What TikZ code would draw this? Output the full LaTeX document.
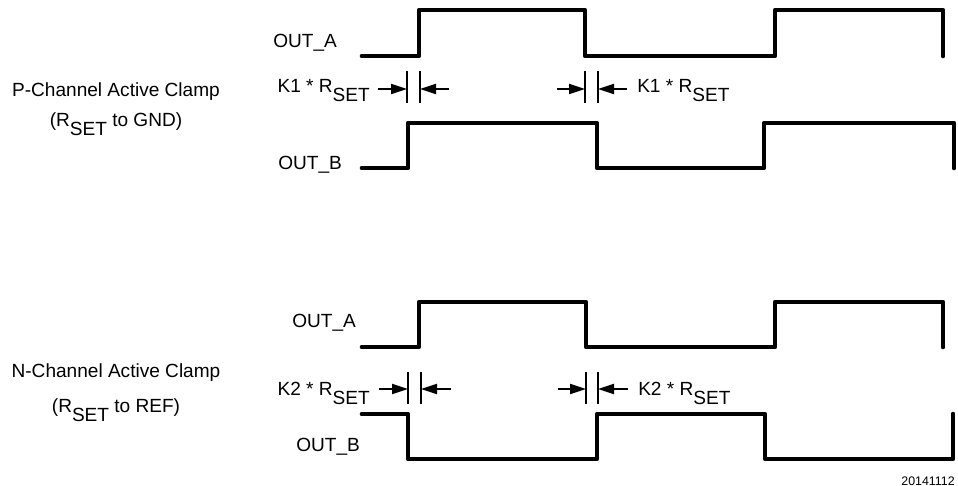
\documentclass[tikz,border=0pt]{standalone}
\usepackage{fontspec}
\setmainfont{Liberation Sans}
\usetikzlibrary{arrows.meta}
\newcommand{\rset}{R\raisebox{-7pt}{SET}}

\begin{document}
\begin{tikzpicture}[x=0.75pt,y=-0.75pt,>={Triangle[length=12pt,width=7.5pt]},
                    font=\fontsize{14.3}{17}\selectfont]
  \tikzstyle{wave}=[line width=3.5pt,line join=round,line cap=round]
  \tikzstyle{tickline}=[line width=1.2pt]
  \tikzstyle{dim}=[->,line width=1.6pt]
  \tikzstyle{lbl}=[inner sep=0pt]

  \useasboundingbox (0,0) rectangle (958,486);

  % P-channel
  \node[lbl,anchor=base] (ptitle) at (116,96) {P-Channel Active Clamp};
  \node[lbl,anchor=base] (pnote)  at (116,126) {(\rset{} to GND)};
  \node[lbl,anchor=base west] (outAp) at (273,47) {OUT\_A};
  \node[lbl,anchor=base west] (outBp) at (278,169) {OUT\_B};
  \node[lbl,anchor=base east] (k1left)  at (370,92) {K1 * \rset};
  \node[lbl,anchor=base west] (k1right) at (637,92) {K1 * \rset};

  \draw[wave] (362,56) -- (419,56) -- (419,10) -- (585,10) -- (585,56)
              -- (775,56) -- (775,10) -- (943,10) -- (943,56);
  \draw[wave] (362,168) -- (408,168) -- (408,123) -- (597,123) -- (597,168)
              -- (764,168) -- (764,123) -- (954,123) -- (954,168);

  \coordinate (p1) at (407,89);  \coordinate (p2) at (420,89);
  \coordinate (p3) at (585,89);  \coordinate (p4) at (598,89);
  \foreach \c in {p1,p2,p3,p4}
    \draw[tickline] (\c) ++(0,-18) -- ++(0,32);
  \draw[dim] (378,89) -- (p1);
  \draw[dim] (449,89) -- (p2);
  \draw[dim] (557,89) -- (p3);
  \draw[dim] (627,89) -- (p4);

  % N-channel
  \node[lbl,anchor=base] (ntitle) at (116,377) {N-Channel Active Clamp};
  \node[lbl,anchor=base] (nnote)  at (116,412) {(\rset{} to REF)};
  \node[lbl,anchor=base west] (outAn) at (292,327) {OUT\_A};
  \node[lbl,anchor=base west] (outBn) at (296,451) {OUT\_B};
  \node[lbl,anchor=base east] (k2left)  at (370,395) {K2 * \rset};
  \node[lbl,anchor=base west] (k2right) at (638,395) {K2 * \rset};

  \draw[wave] (362,347) -- (419,347) -- (419,302) -- (586,302) -- (586,347)
              -- (775,347) -- (775,302) -- (943,302) -- (943,347);
  \draw[wave] (362,414) -- (408,414) -- (408,459) -- (597,459) -- (597,414)
              -- (765,414) -- (765,459) -- (953,459) -- (953,414);

  \coordinate (n1) at (408,389); \coordinate (n2) at (421,389);
  \coordinate (n3) at (586,389); \coordinate (n4) at (598,389);
  \foreach \c in {n1,n2,n3,n4}
    \draw[tickline] (\c) ++(0,-17) -- ++(0,32);
  \draw[dim] (379,389) -- (n1);
  \draw[dim] (451,389) -- (n2);
  \draw[dim] (558,389) -- (n3);
  \draw[dim] (628,389) -- (n4);

  \node[lbl,anchor=base east,font=\fontsize{9.3}{11}\selectfont] (figno) at (955,485) {20141112};
\end{tikzpicture}
\end{document}
